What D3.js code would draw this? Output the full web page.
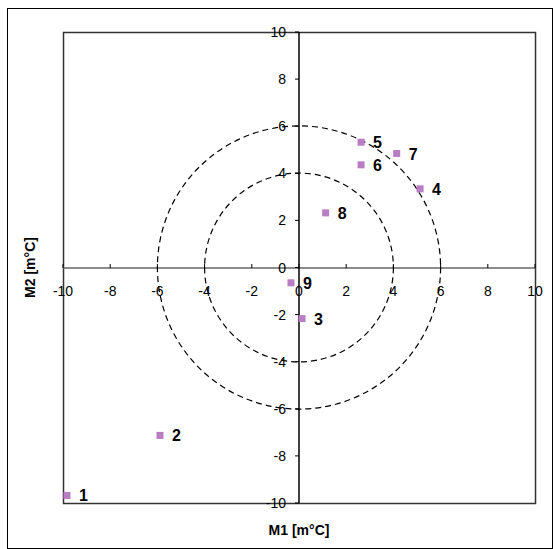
<!DOCTYPE html>
<meta charset="utf-8">
<style>
  html, body { margin: 0; padding: 0; background: #fff; overflow: hidden; }
  text { font-family: "Liberation Sans", Arial, sans-serif; fill: #000; }
  .tick-label { font-size: 14px; }
  .pt-label { font-size: 16px; font-weight: bold; }
  .title { font-size: 14px; font-weight: bold; }
  .ring { fill: none; stroke: #000; stroke-width: 1.2px; stroke-dasharray: 6,4; }
</style>
<body>
<svg width="553" height="549"></svg>
<script src="https://d3js.org/d3.v7.min.js"></script>
<script>
  // point ids and coordinates (m°C)
  var ids = ["1", "2", "3", "4", "5", "6", "7", "8", "9"];
  var m1 = [-9.83, -5.89, 0.13, 5.13, 2.63, 2.63, 4.14, 1.13, -0.34];
  var m2 = [-9.68, -7.13, -2.17, 3.34, 5.32, 4.36, 4.84, 2.32, -0.65];
  var ticks = [-10, -8, -6, -4, -2, 0, 2, 4, 6, 8, 10];
  var radii = [4, 6];

  var svg = d3.select("svg");
  var plotL = 63, plotR = 535, plotT = 32, plotB = 503;

  var x = d3.scaleLinear().domain([-10, 10]).range([plotL, plotR]);
  var y = d3.scaleLinear().domain([-10, 10]).range([plotB, plotT]);

  // outer frame
  svg.append("rect")
    .attr("x", 7.5).attr("y", 8.5)
    .attr("width", 545).attr("height", 540)
    .attr("fill", "none").attr("stroke", "#000").attr("stroke-width", 1);

  // plot area frame
  svg.append("rect")
    .attr("x", plotL + 0.5).attr("y", plotT + 0.5)
    .attr("width", plotR - plotL).attr("height", plotB - plotT)
    .attr("fill", "none").attr("stroke", "#333").attr("stroke-width", 1.5);

  // x axis (through y=0)
  var xAxis = svg.append("g").attr("transform", "translate(0," + Math.round(y(0)) + ")");
  xAxis.append("line")
    .attr("x1", plotL).attr("x2", plotR)
    .attr("stroke", "#666").attr("stroke-width", 1.5);
  xAxis.selectAll(".tk").data(ticks).enter().append("line")
    .attr("x1", function(d) { return x(d); }).attr("x2", function(d) { return x(d); })
    .attr("y1", 0).attr("y2", -4)
    .attr("stroke", "#000");
  xAxis.selectAll(".tick-label").data(ticks).enter().append("text")
    .attr("class", "tick-label")
    .attr("x", function(d) { return x(d); })
    .attr("y", 28)
    .attr("text-anchor", "middle")
    .text(function(d) { return d; });

  // y axis (through x=0)
  var yAxis = svg.append("g").attr("transform", "translate(" + Math.round(x(0)) + ",0)");
  yAxis.append("line")
    .attr("y1", plotT).attr("y2", plotB)
    .attr("stroke", "#000").attr("stroke-width", 1.5);
  yAxis.selectAll(".tk").data(ticks).enter().append("line")
    .attr("y1", function(d) { return y(d); }).attr("y2", function(d) { return y(d); })
    .attr("x1", 0).attr("x2", -4)
    .attr("stroke", "#000");
  yAxis.selectAll(".tick-label").data(ticks).enter().append("text")
    .attr("class", "tick-label")
    .attr("x", -13)
    .attr("y", function(d) { return y(d) + 5; })
    .attr("text-anchor", "end")
    .text(function(d) { return d; });

  // dashed circles
  svg.selectAll(".ring").data(radii).enter().append("circle")
    .attr("class", "ring")
    .attr("cx", x(0)).attr("cy", y(0))
    .attr("r", function(d) { return x(d) - x(0); });

  // points
  var pts = ids.map(function(id, i) { return { id: id, a: m1[i], b: m2[i] }; });
  svg.selectAll(".pt").data(pts).enter().append("rect")
    .attr("x", function(d) { return x(d.a) - 3.5; })
    .attr("y", function(d) { return y(d.b) - 3.5; })
    .attr("width", 7).attr("height", 7)
    .attr("fill", "#b87dc2");
  svg.selectAll(".pt-label").data(pts).enter().append("text")
    .attr("class", "pt-label")
    .attr("x", function(d) { return x(d.a) + 12; })
    .attr("y", function(d) { return y(d.b) + 6; })
    .text(function(d) { return d.id; });

  // axis titles
  svg.append("text").attr("class", "title")
    .attr("x", x(0)).attr("y", 535)
    .attr("text-anchor", "middle")
    .text("M1 [m°C]");
  svg.append("text").attr("class", "title")
    .attr("transform", "translate(35," + y(0) + ") rotate(-90)")
    .attr("text-anchor", "middle")
    .text("M2 [m°C]");
</script>
</body>
</html>
